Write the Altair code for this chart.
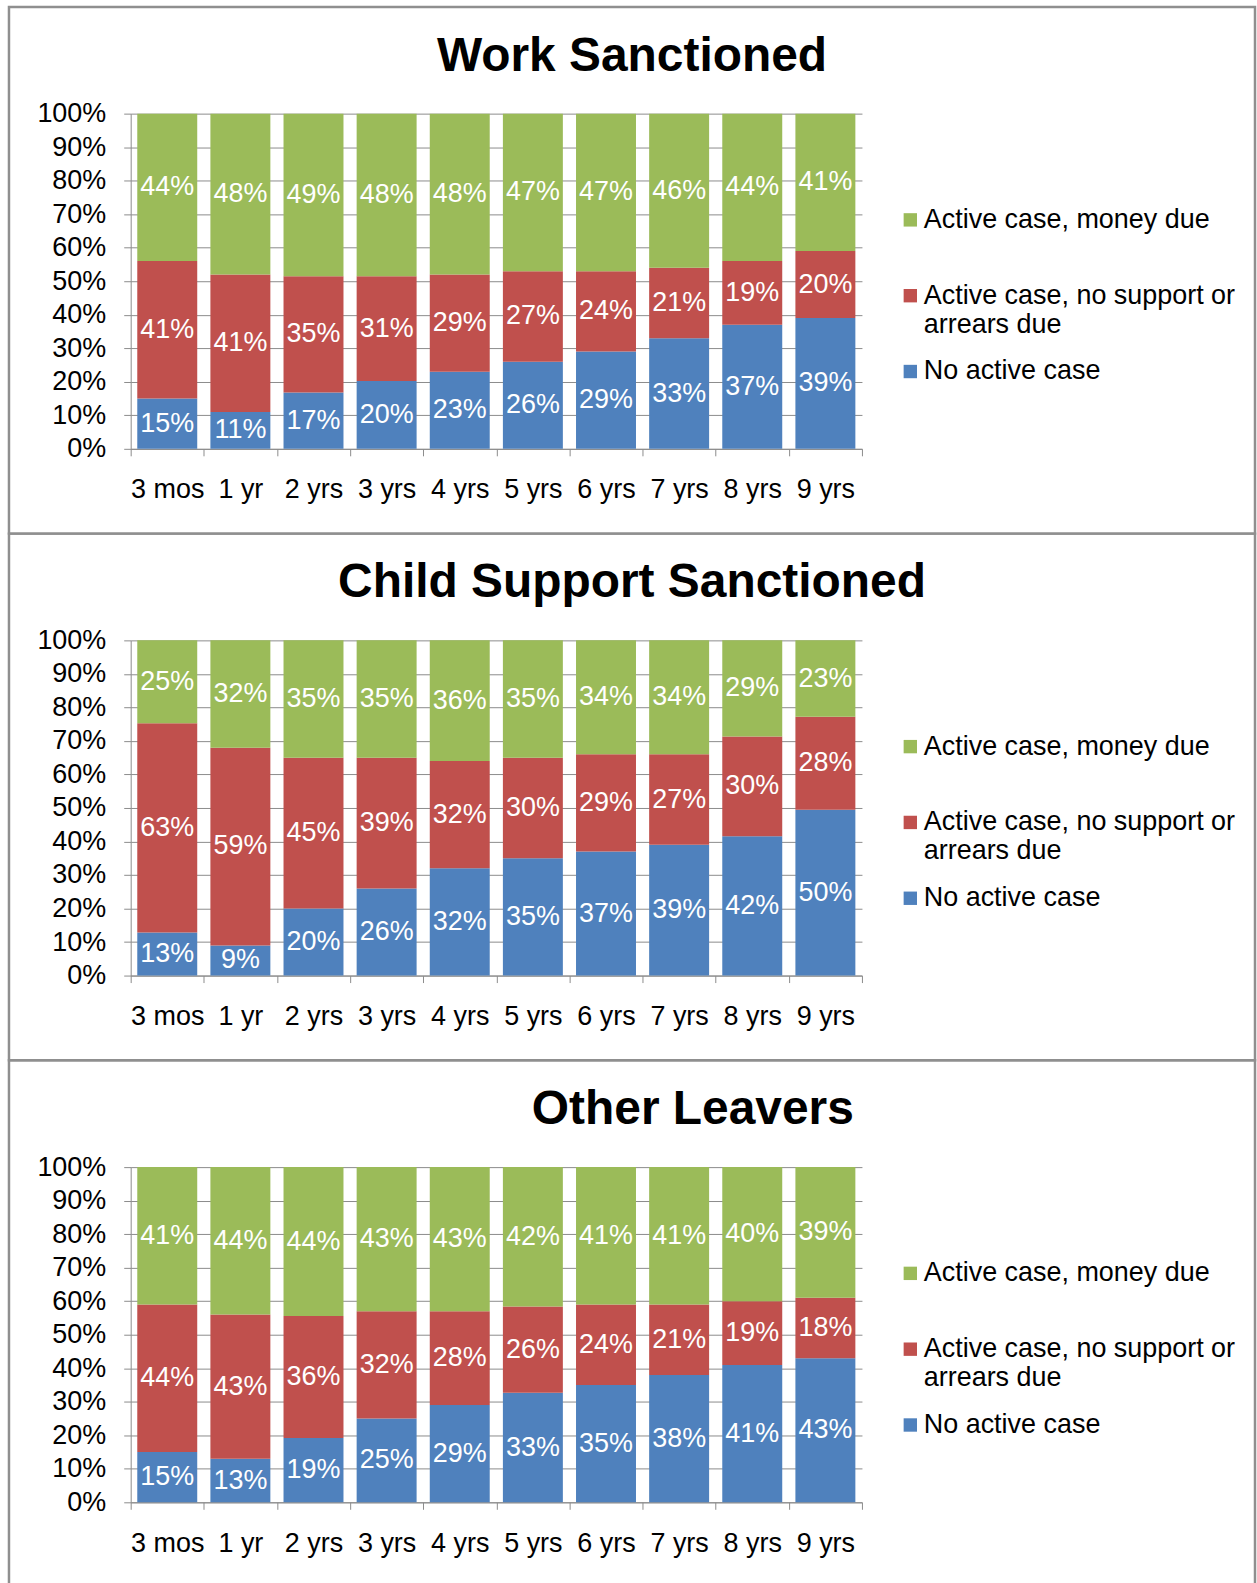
import altair as alt
import pandas as pd

FONT = "Liberation Sans"
AXIS_GRAY = "#8c8c8c"
BORDER_GRAY = "#8f8f8f"
FS = 27

periods = ["3 mos", "1 yr", "2 yrs", "3 yrs", "4 yrs", "5 yrs", "6 yrs", "7 yrs", "8 yrs", "9 yrs"]
series = ["Active case, money due", "Active case, no support or arrears due", "No active case"]
colors = ["#9BBB59", "#C0504D", "#4F81BD"]

# Work Sanctioned
work_money_due = [44, 48, 49, 48, 48, 47, 47, 46, 44, 41]
work_no_support = [41, 41, 35, 31, 29, 27, 24, 21, 19, 20]
work_no_case = [15, 11, 17, 20, 23, 26, 29, 33, 37, 39]

# Child Support Sanctioned
cs_money_due = [25, 32, 35, 35, 36, 35, 34, 34, 29, 23]
cs_no_support = [63, 59, 45, 39, 32, 30, 29, 27, 30, 28]
cs_no_case = [13, 9, 20, 26, 32, 35, 37, 39, 42, 50]

# Other Leavers
ol_money_due = [41, 44, 44, 43, 43, 42, 41, 41, 40, 39]
ol_no_support = [44, 43, 36, 32, 28, 26, 24, 21, 19, 18]
ol_no_case = [15, 13, 19, 25, 29, 33, 35, 38, 41, 43]

y_ticks = [0, 0.1, 0.2, 0.3, 0.4, 0.5, 0.6, 0.7, 0.8, 0.9, 1.0]

PANEL_W = 1249
PANEL_H = 528


def make_df(green, red, blue):
    rows = []
    for i, p in enumerate(periods):
        rows.append({"period": p, "series": series[2], "order": 0, "value": blue[i]})
        rows.append({"period": p, "series": series[1], "order": 1, "value": red[i]})
        rows.append({"period": p, "series": series[0], "order": 2, "value": green[i]})
    return pd.DataFrame(rows)


def panel(title, green, red, blue, title_dx=0):
    df = make_df(green, red, blue)
    base = alt.Chart(df).transform_stack(
        stack="value",
        groupby=["period"],
        as_=["v0", "v1"],
        offset="normalize",
        sort=[alt.SortField("order", order="ascending")],
    ).transform_calculate(
        mid="(datum.v0 + datum.v1) / 2",
        label="datum.value + '%'",
    )

    xscale = alt.Scale(domain=periods, range=[122, 855], paddingInner=0, paddingOuter=0)
    yscale = alt.Scale(domain=[0, 1], range=[443, 107], nice=False)

    xaxis = alt.Axis(
        title=None, labelAngle=0, offset=-85, tickBand="extent", tickSize=7,
        labelPadding=21, labelFontSize=FS, labelFont=FONT, labelColor="black",
        domainColor=AXIS_GRAY, tickColor=AXIS_GRAY, grid=False, labelOverlap=False,
    )
    yaxis = alt.Axis(
        title=None, values=y_ticks, format=".0%", offset=-122, tickSize=7,
        labelPadding=18, labelFontSize=FS, labelFont=FONT, labelColor="black",
        domainColor=AXIS_GRAY, tickColor=AXIS_GRAY, gridColor=AXIS_GRAY, grid=True,
    )
    legend = alt.Legend(
        title=None, orient="none", legendX=890, legendY=200, padding=0,
        symbolType="square", symbolSize=180, symbolStrokeWidth=0,
        labelFontSize=FS, labelFont=FONT, labelColor="black", labelOffset=0,
        labelLimit=600, rowPadding=19,
        labelExpr="datum.label == 'Active case, no support or arrears due' ? ['Active case, no support or', 'arrears due'] : [datum.label, '']",
    )

    bars = base.mark_bar(width=alt.RelativeBandSize(0.82)).encode(
        x=alt.X("period:N", sort=periods, scale=xscale, axis=xaxis),
        y=alt.Y("v0:Q", scale=yscale, axis=yaxis),
        y2="v1:Q",
        color=alt.Color("series:N", scale=alt.Scale(domain=series, range=colors), legend=legend),
    )
    texts = base.mark_text(color="white", fontSize=FS, font=FONT, baseline="middle", align="center").encode(
        x=alt.X("period:N", sort=periods),
        y=alt.Y("mid:Q"),
        text=alt.Text("label:N"),
    )
    return alt.layer(bars, texts).properties(
        width=PANEL_W,
        height=PANEL_H,
        title=alt.TitleParams(
            text=title, fontSize=48, fontWeight="bold", font=FONT, color="black",
            anchor="middle", frame="group", offset=-112, baseline="alphabetic", dx=title_dx,
        ),
    )


p1 = panel("Work Sanctioned", work_money_due, work_no_support, work_no_case)
p2 = panel("Child Support Sanctioned", cs_money_due, cs_no_support, cs_no_case)
p3 = panel("Other Leavers", ol_money_due, ol_no_support, ol_no_case, title_dx=61)

chart = alt.vconcat(p1, p2, p3, spacing=0, bounds="flush").resolve_legend(
    color="independent"
).properties(
    padding={"left": 7, "top": 3, "right": 0, "bottom": 0},
    background="white",
).configure_view(
    stroke=BORDER_GRAY, strokeWidth=2.5
)

chart.save("out.html", embed_options={"renderer": "svg", "actions": False})
